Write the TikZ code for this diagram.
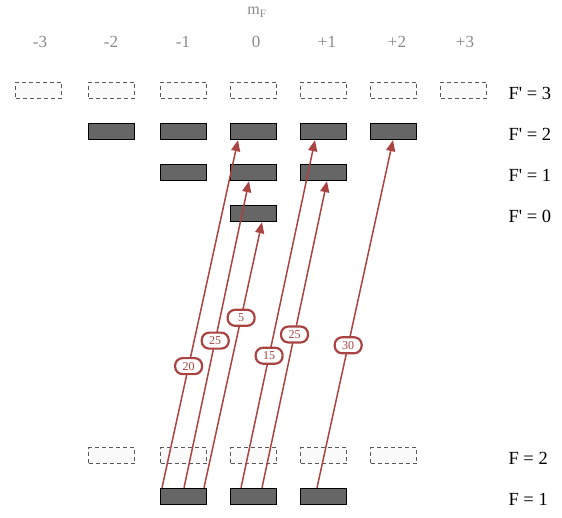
\documentclass[tikz,border=0pt]{standalone}
\usepackage{fontspec}
\setmainfont{Liberation Serif}[Ligatures=TeXOff]
\usetikzlibrary{arrows.meta,calc}
\definecolor{arr}{HTML}{A94442}
\definecolor{lvl}{HTML}{666666}
\definecolor{lab}{HTML}{8A8A8A}
\begin{document}
\begin{tikzpicture}[x=1pt,y=-1pt,
 lvlbox/.style={draw=black,line width=1.4pt,fill=lvl,minimum width=46pt,minimum height=16pt,inner sep=0pt},
 emptybox/.style={draw=black!65,line width=1.2pt,dash pattern=on 4pt off 3pt,fill=black!2,minimum width=46pt,minimum height=16pt,inner sep=0pt},
 trans/.style={draw=arr,line width=1.5pt,-{Triangle[length=11pt,width=9pt]}},
 ratio/.style={draw=arr,line width=2.2pt,fill=white,rounded corners=7.5pt,text=arr,font=\fontsize{12}{12}\selectfont,inner sep=1pt,minimum width=27pt,minimum height=16pt},
 mlab/.style={text=lab,font=\fontsize{17}{17}\selectfont},
 flab/.style={anchor=west,font=\fontsize{18.5}{18.5}\selectfont}]
\useasboundingbox (0,0) rectangle (562,518);
% header
\node[text=lab,font=\fontsize{16}{16}\selectfont] (mf) at (257,12) {m\textsubscript{F}};
\foreach \n/\x/\t in {n3/40/-3,n2/111/-2,n1/183/-1,z/256/0,p1/327/+1,p2/397/+2,p3/465/+3}
  \node[mlab] (c\n) at (\x,42) {\t};
% F'=3
\foreach \n/\x in {n3/38.5,n2/111.5,n1/183.5,z/253.5,p1/323.5,p2/393.5,p3/463.5}
  \node[emptybox] (u3\n) at (\x,90.5) {};
% F'=2
\foreach \n/\x in {n2/111.5,n1/183.5,z/253.5,p1/323.5,p2/393.5}
  \node[lvlbox] (u2\n) at (\x,131.5) {};
% F'=1
\foreach \n/\x in {n1/183.5,z/253.5,p1/323.5}
  \node[lvlbox] (u1\n) at (\x,172.5) {};
% F'=0
\node[lvlbox] (u0z) at (253.5,213.5) {};
% F=2
\foreach \n/\x in {n2/111.5,n1/183.5,z/253.5,p1/323.5,p2/393.5}
  \node[emptybox] (g2\n) at (\x,455.5) {};
% F=1
\foreach \n/\x in {n1/183.5,z/253.5,p1/323.5}
  \node[lvlbox] (g1\n) at (\x,496.5) {};
% level labels
\node[flab] (l3) at (505,93) {F' = 3};
\node[flab] (l2) at (505,134) {F' = 2};
\node[flab] (l1) at (505,175) {F' = 1};
\node[flab] (l0) at (505,216) {F' = 0};
\node[flab] (k2) at (505,458) {F = 2};
\node[flab] (k1) at (505,499) {F = 1};
% transitions
\draw[trans] ($(g1n1.north)+(-21.5,0)$) -- node[ratio,pos=0.35]{20} ($(u2z.south)+(-15.5,0)$);
\draw[trans] ($(g1n1.north)+(0.5,0)$) -- node[ratio,pos=0.48]{25} ($(u1z.south)+(-4.5,0)$);
\draw[trans] ($(g1n1.north)+(20.5,0)$) -- node[ratio,pos=0.64]{5} ($(u0z.south)+(8.5,0)$);
\draw[trans] ($(g1z.north)+(-12.5,0)$) -- node[ratio,pos=0.38]{15} ($(u2p1.south)+(-8.5,0)$);
\draw[trans] ($(g1z.north)+(8.5,0)$) -- node[ratio,pos=0.5]{25} ($(u1p1.south)+(3.5,0)$);
\draw[trans] ($(g1p1.north)+(-6.5,0)$) -- node[ratio,pos=0.41]{30} ($(u2p2.south)+(-0.5,0)$);
\end{tikzpicture}
\end{document}
